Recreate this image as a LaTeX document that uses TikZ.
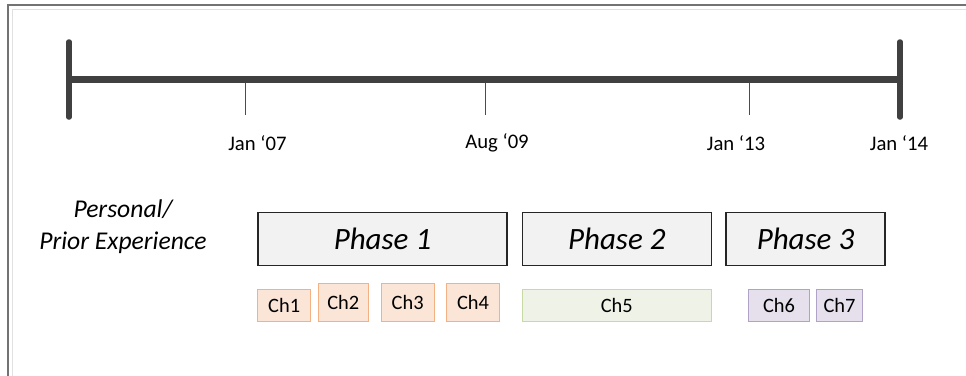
\documentclass[tikz,border=0pt]{standalone}
\usepackage{fontspec}
\setmainfont{Carlito}
\definecolor{orfill}{HTML}{FBE5D6}
\definecolor{ordraw}{HTML}{F4B183}
\definecolor{grfill}{HTML}{EEF2E7}
\definecolor{grdraw}{HTML}{C9D9A6}
\definecolor{pufill}{HTML}{E5E0EC}
\definecolor{pudraw}{HTML}{B1A3C8}
\definecolor{phfill}{HTML}{F2F2F2}
\begin{document}
\begin{tikzpicture}[x=1pt,y=-1pt,
  datelbl/.style={font=\fontsize{20.7}{24}\selectfont, inner sep=0pt, anchor=center},
  phasebox/.style={draw=black!85, line width=1.1pt, fill=phfill, inner sep=0pt,
     font=\fontsize{31}{36}\selectfont\itshape},
  chbox/.style={line width=1.1pt, inner sep=0pt, font=\fontsize{20.4}{24}\selectfont},
  orangech/.style={chbox, draw=ordraw, fill=orfill},
  greench/.style={chbox, draw=grdraw, fill=grfill},
  purplech/.style={chbox, draw=pudraw, fill=pufill},
  barline/.style={line width=7pt, draw=black!75},
  endbar/.style={line width=5.5pt, draw=black!75, line cap=round},
  tickline/.style={line width=0.9pt, draw=black!70},
  shadowline/.style={draw=black!12}
]
\useasboundingbox (0,0) rectangle (966,375);
% frame
\draw[draw=black!55, line width=1.6pt] (8,380) -- (8,5) -- (975,5);
\draw[draw=black!12, line width=1.2pt] (12.5,380) -- (12.5,9.5) -- (975,9.5);

% timeline coordinates
\coordinate (L) at (69,79.7);
\coordinate (R) at (900,79.7);
\coordinate (Ltop) at (69,42);
\coordinate (Lbot) at (69,117);
\coordinate (Rtop) at (900,42);
\coordinate (Rbot) at (900,117);
\coordinate (t1a) at (245.5,83);
\coordinate (t1b) at (245.5,115);
\coordinate (t2a) at (485,83);
\coordinate (t2b) at (485,115);
\coordinate (t3a) at (749,83);
\coordinate (t3b) at (749,115);

% shadows
\begin{scope}[shift={(3,3)}]
\draw[shadowline, line width=7pt] (L) -- (R);
\draw[shadowline, line width=5.5pt, line cap=round] (Ltop) -- (Lbot);
\draw[shadowline, line width=5.5pt, line cap=round] (Rtop) -- (Rbot);
\draw[shadowline, line width=0.9pt] (t1a) -- (t1b);
\draw[shadowline, line width=0.9pt] (t2a) -- (t2b);
\draw[shadowline, line width=0.9pt] (t3a) -- (t3b);
\end{scope}

% timeline
\draw[barline] (L) -- (R);
\draw[endbar] (Ltop) -- (Lbot);
\draw[endbar] (Rtop) -- (Rbot);
\draw[tickline] (t1a) -- (t1b);
\draw[tickline] (t2a) -- (t2b);
\draw[tickline] (t3a) -- (t3b);

% dates
\node[datelbl] (d1) at (257.5,143) {Jan ‘07};
\node[datelbl] (d2) at (497,143) {Aug ‘09};
\node[datelbl] (d3) at (736,143) {Jan ‘13};
\node[datelbl] (d4) at (899,143) {Jan ‘14};

% personal
\node[font=\fontsize{25.6}{32}\selectfont\itshape, align=center, inner sep=0pt, anchor=center] (pers) at (123,227) {Personal/\\Prior Experience};

% phases
\node[phasebox, minimum width=249pt, minimum height=53pt] (p1) at (382.5,238.8) {Phase 1};
\node[phasebox, minimum width=189pt, minimum height=53pt] (p2) at (616.8,238.8) {Phase 2};
\node[phasebox, minimum width=159pt, minimum height=53pt] (p3) at (805.5,238.8) {Phase 3};

% chapters
\node[orangech, minimum width=53pt, minimum height=32pt] (c1) at (284.2,305.3) {Ch1};
\node[orangech, minimum width=50pt, minimum height=37.6pt] (c2) at (343.3,302.5) {Ch2};
\node[orangech, minimum width=53.3pt, minimum height=37.6pt] (c3) at (407.7,302.5) {Ch3};
\node[orangech, minimum width=53.4pt, minimum height=37.6pt] (c4) at (473,302.5) {Ch4};
\node[greench, minimum width=189pt, minimum height=32pt] (c5) at (616.8,305.3) {Ch5};
\node[purplech, minimum width=60.6pt, minimum height=32pt] (c6) at (779,305.3) {Ch6};
\node[purplech, minimum width=45.6pt, minimum height=32pt] (c7) at (839.5,305.3) {Ch7};
\end{tikzpicture}
\end{document}
